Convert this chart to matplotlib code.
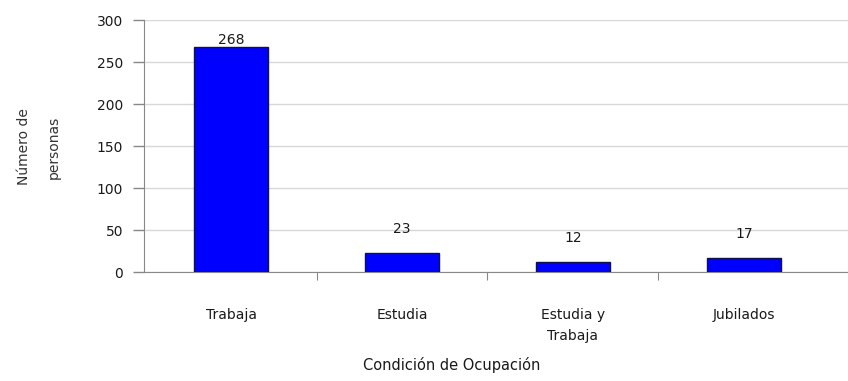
import matplotlib.pyplot as plt
import numpy as np

categorias = ['Trabaja', 'Estudia', 'Estudia y\nTrabaja', 'Jubilados']
personas = [268, 23, 12, 17]
y_ticks = [0, 50, 100, 150, 200, 250, 300]

plt.rcParams['font.family'] = ['DejaVu Sans']

fig = plt.figure(figsize=(8.48, 3.81), dpi=100)
ax = fig.add_axes([144 / 848, 109 / 381, 1 - 144 / 848, 252 / 381])

x = np.arange(len(categorias))
ax.bar(x, personas, width=0.43, color='#0000ff', edgecolor='#10104a', linewidth=1.0, zorder=3)

# etiquetas de valor encima de cada barra
desplazamiento = [0, 12, 12, 12]
for xi, v, d in zip(x, personas, desplazamiento):
    ax.annotate(str(v), (xi, v), xytext=(0, d), textcoords='offset points',
                ha='center', va='bottom', fontsize=10, color='#1a1a1a')

ax.set_xlim(-0.51, 3.61)
ax.set_ylim(0, 300)
ax.set_yticks(y_ticks)
ax.tick_params(axis='y', labelsize=10, labelcolor='#1a1a1a', length=8, width=1,
               color='#888888', pad=7)
ax.yaxis.grid(True, color='#d8d8d8', linewidth=1, zorder=0)

# marcas del eje x entre categorías, etiquetas centradas en las barras
ax.set_xticks(x[:-1] + 0.5)
ax.set_xticklabels([])
ax.set_xticks(x, minor=True)
ax.set_xticklabels(categorias, minor=True, fontsize=10, color='#1a1a1a', linespacing=1.6)
ax.tick_params(axis='x', which='major', length=6, direction='out', color='#888888')
ax.tick_params(axis='x', which='minor', length=0, pad=26)

for s in ['top', 'right']:
    ax.spines[s].set_visible(False)
for s in ['left', 'bottom']:
    ax.spines[s].set_color('#888888')

fig.text(452 / 848, 8 / 381, 'Condición de Ocupación',
         ha='center', va='bottom', fontsize=10.5, color='#1a1a1a')
fig.text(39 / 848, 1 - 147 / 381, 'Número de\npersonas', rotation=90,
         ha='center', va='center', fontsize=10, color='#333333', linespacing=2.4)

plt.savefig('out.png', dpi=100)
